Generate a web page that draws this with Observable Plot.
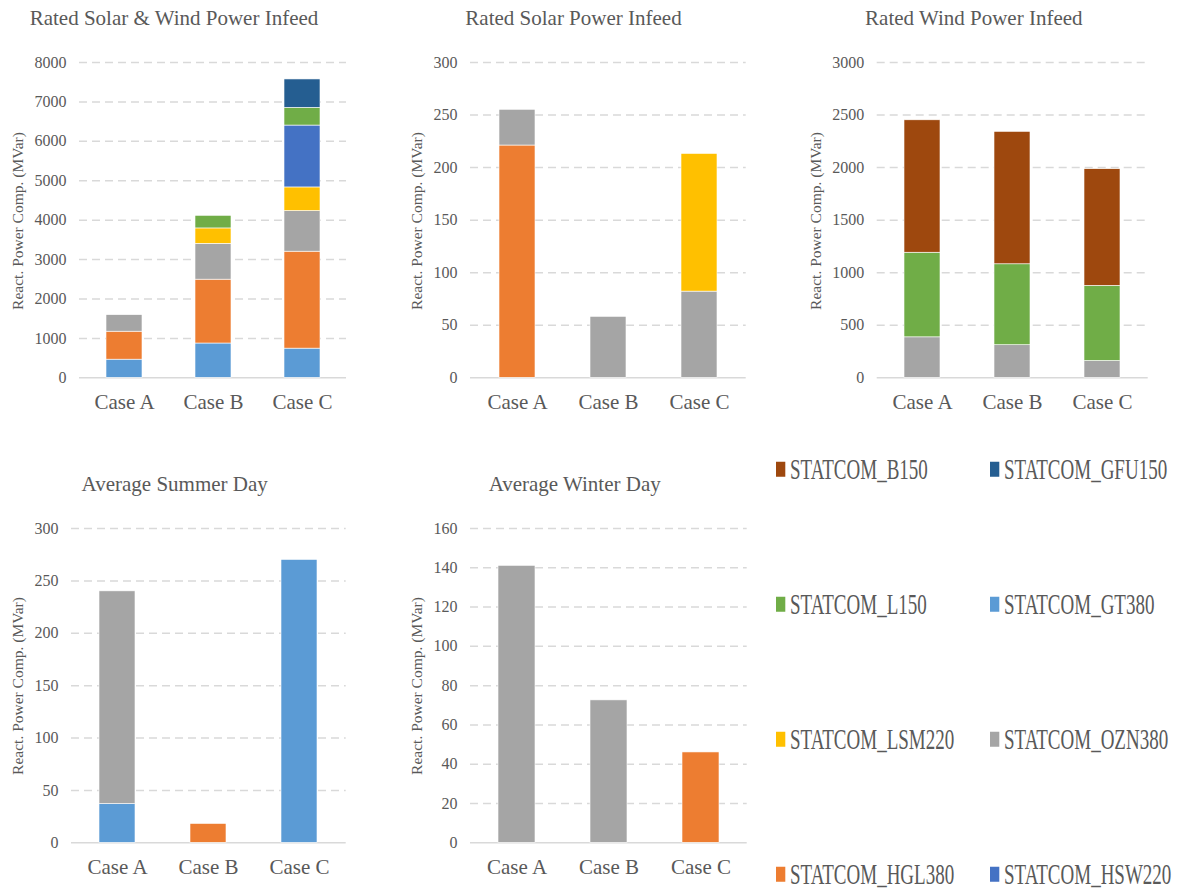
<!DOCTYPE html>
<html>
<head>
<meta charset="utf-8">
<script src="https://cdn.jsdelivr.net/npm/d3@7"></script>
<script src="https://cdn.jsdelivr.net/npm/@observablehq/plot@0.6"></script>
<style>
  body { margin: 0; background: #fff; }
  #root { position: relative; width: 1184px; height: 892px; overflow: hidden; background: #fff; }
  #root svg { position: absolute; font-family: "Liberation Serif", "Times New Roman", serif !important; }
  #root svg text { font-family: "Liberation Serif", "Times New Roman", serif !important; }
</style>
</head>
<body>
<div id="root"></div>
<script>
// ---------- data ----------
const cases = ["Case A", "Case B", "Case C"];

// stacking order (bottom to top) and colours
const seriesNames = ["STATCOM_GT380", "STATCOM_HGL380", "STATCOM_OZN380", "STATCOM_LSM220",
                     "STATCOM_HSW220", "STATCOM_L150", "STATCOM_GFU150", "STATCOM_B150"];
const seriesColors = ["#5B9BD5", "#ED7D31", "#A5A5A5", "#FFC000",
                      "#4472C4", "#70AD47", "#255E91", "#9E480E"];

// legend reading order
const legendNames = ["STATCOM_B150", "STATCOM_GFU150", "STATCOM_L150", "STATCOM_GT380",
                     "STATCOM_LSM220", "STATCOM_OZN380", "STATCOM_HGL380", "STATCOM_HSW220"];

// Rated Solar & Wind Power Infeed
const solarWindSeries = ["STATCOM_GT380", "STATCOM_HGL380", "STATCOM_OZN380", "STATCOM_LSM220",
                         "STATCOM_HSW220", "STATCOM_L150", "STATCOM_GFU150"];
const solarWindValues = [
  [460, 870, 740],
  [710, 1620, 2460],
  [420, 910, 1030],
  [0, 390, 600],
  [0, 0, 1570],
  [0, 320, 450],
  [0, 0, 720]
];
const solarWindTicks = [0, 1000, 2000, 3000, 4000, 5000, 6000, 7000, 8000];

// Rated Solar Power Infeed
const solarSeries = ["STATCOM_HGL380", "STATCOM_OZN380", "STATCOM_LSM220"];
const solarValues = [
  [221, 0, 0],
  [34, 58, 82],
  [0, 0, 131]
];
const solarTicks = [0, 50, 100, 150, 200, 250, 300];

// Rated Wind Power Infeed
const windSeries = ["STATCOM_OZN380", "STATCOM_L150", "STATCOM_B150"];
const windValues = [
  [385, 310, 160],
  [805, 770, 715],
  [1260, 1260, 1110]
];
const windTicks = [0, 500, 1000, 1500, 2000, 2500, 3000];

// Average Summer Day
const summerSeries = ["STATCOM_GT380", "STATCOM_HGL380", "STATCOM_OZN380"];
const summerValues = [
  [37, 0, 270],
  [0, 18, 0],
  [203, 0, 0]
];
const summerTicks = [0, 50, 100, 150, 200, 250, 300];

// Average Winter Day
const winterSeries = ["STATCOM_OZN380", "STATCOM_HGL380"];
const winterValues = [
  [141, 72.5, 0],
  [0, 0, 46]
];
const winterTicks = [0, 20, 40, 60, 80, 100, 120, 140, 160];

const yLabel = "React. Power Comp. (MVar)";

// ---------- drawing ----------
const FONT = "Liberation Serif, Times New Roman, serif";
const TXT = "#595959";
const GRID = "#d9d9d9";
const root = document.getElementById("root");

function panel(o) {
  const data = [];
  o.series.forEach((s, i) => cases.forEach((c, j) => {
    const v = o.values[i][j];
    if (v > 0) data.push({ case: c, series: s, value: v });
  }));
  const chart = Plot.plot({
    width: o.width, height: o.height,
    marginLeft: o.ml, marginRight: o.mr, marginTop: o.mt, marginBottom: o.mb,
    style: { fontFamily: FONT, color: TXT, background: "transparent", overflow: "visible" },
    x: { domain: cases, paddingInner: 0.6, paddingOuter: 0.3 },
    y: { domain: [0, o.ticks[o.ticks.length - 1]] },
    color: { domain: seriesNames, range: seriesColors },
    marks: [
      Plot.gridY(o.ticks.filter(d => d !== 0), { stroke: GRID, strokeOpacity: 1, strokeWidth: 1.5, strokeDasharray: "8,5" }),
      Plot.ruleY([0], { stroke: GRID, strokeWidth: 1.5 }),
      Plot.barY(data, { x: "case", y: "value", fill: "series", stroke: "#fff", strokeWidth: 0.6 }),
      Plot.axisY({ ticks: o.ticks, tickSize: 0, tickPadding: 13, fontSize: 16, label: null, tickFormat: d3.format("d") }),
      Plot.axisX({ tickSize: 0, tickPadding: 16.5, fontSize: 21, label: null })
    ]
  });
  chart.style.left = o.left + "px";
  chart.style.top = o.top + "px";
  root.appendChild(chart);
}

panel({ series: solarWindSeries, values: solarWindValues, ticks: solarWindTicks,
        left: 0, top: 0, width: 360, height: 420, ml: 79, mr: 14, mt: 62, mb: 42.7 });
panel({ series: solarSeries, values: solarValues, ticks: solarTicks,
        left: 390, top: 0, width: 370, height: 420, ml: 80, mr: 14.3, mt: 62, mb: 42.7 });
panel({ series: windSeries, values: windValues, ticks: windTicks,
        left: 790, top: 0, width: 380, height: 420, ml: 86.7, mr: 22.3, mt: 62, mb: 42.7 });
panel({ series: summerSeries, values: summerValues, ticks: summerTicks,
        left: 0, top: 460, width: 360, height: 425, ml: 71, mr: 14.3, mt: 68, mb: 42.7 });
panel({ series: winterSeries, values: winterValues, ticks: winterTicks,
        left: 390, top: 460, width: 370, height: 425, ml: 80, mr: 13.3, mt: 68, mb: 42.7 });

// overlay: titles, y labels, legend
const over = d3.select(root).append("svg")
  .attr("width", 1184).attr("height", 892)
  .style("left", "0px").style("top", "0px")
  .attr("font-family", FONT);

const titles = [
  { t: "Rated Solar & Wind Power Infeed", x: 174, y: 24.5 },
  { t: "Rated Solar Power Infeed", x: 573.5, y: 24.5 },
  { t: "Rated Wind Power Infeed", x: 973.8, y: 24.5 },
  { t: "Average Summer Day", x: 174.7, y: 490.5 },
  { t: "Average Winter Day", x: 574.7, y: 490.5 }
];
over.selectAll("text.title").data(titles).join("text")
  .attr("class", "title")
  .attr("x", d => d.x).attr("y", d => d.y)
  .attr("text-anchor", "middle").attr("fill", TXT).attr("font-size", 21)
  .text(d => d.t);

const ylabs = [
  { x: 17.5, y: 221 }, { x: 417, y: 221 }, { x: 815.8, y: 221 },
  { x: 17.5, y: 686 }, { x: 416.7, y: 686 }
];
over.selectAll("text.ylab").data(ylabs).join("text")
  .attr("class", "ylab")
  .attr("transform", d => `translate(${d.x},${d.y}) rotate(-90)`)
  .attr("dy", "0.35em")
  .attr("text-anchor", "middle").attr("fill", TXT).attr("font-size", 15.5)
  .text(yLabel);

const colorOf = d3.scaleOrdinal(seriesNames, seriesColors);
const legendCols = [790, 1004];
const legendRows = [479.3, 614.3, 749.3, 884.3];
const items = over.selectAll("g.leg").data(legendNames).join("g")
  .attr("class", "leg")
  .attr("transform", (d, i) => `translate(${legendCols[i % 2]},${legendRows[Math.floor(i / 2)]}) scale(1,1.5)`);
items.append("rect")
  .attr("x", -14).attr("y", -11.7).attr("width", 9.3).attr("height", 10)
  .attr("fill", d => colorOf(d));
items.append("text")
  .attr("x", 0).attr("y", 0)
  .attr("fill", TXT).attr("font-size", 19)
  .text(d => d);
</script>
</body>
</html>
